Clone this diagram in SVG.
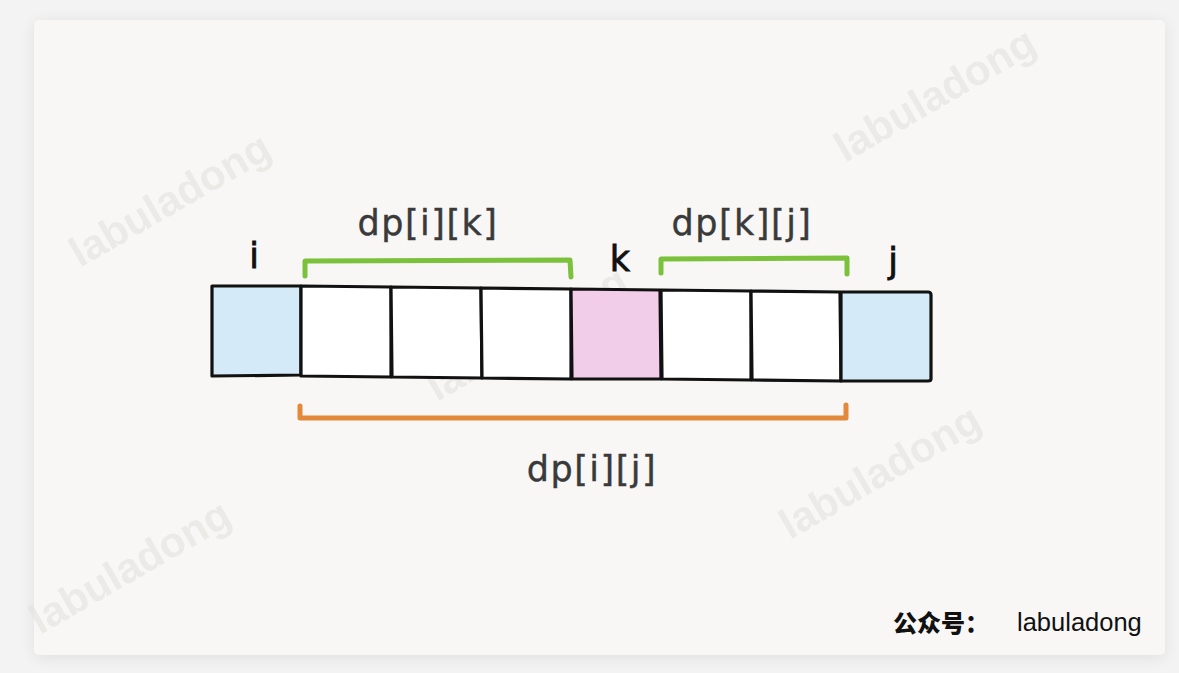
<svg xmlns="http://www.w3.org/2000/svg" width="1179" height="673" viewBox="0 0 1179 673">
<defs>
<filter id="sh" x="-5%" y="-5%" width="110%" height="110%">
<feGaussianBlur stdDeviation="8"/>
</filter>
<style>
.wm{font-family:"Liberation Sans",Arial,sans-serif;font-weight:bold;font-size:42px;fill:#e4e2de;opacity:0.6}
.cell{stroke:#111;stroke-width:3.2;stroke-linejoin:round}
.lbl{font-family:"DejaVu Sans",sans-serif;font-size:35px;fill:#111;stroke:#111;stroke-width:0.8;text-anchor:middle}
.dp{font-family:"DejaVu Sans",sans-serif;font-size:35px;letter-spacing:1.5px;fill:#3a3a3a;stroke:#3a3a3a;stroke-width:0.4;text-anchor:middle}
.br{fill:none;stroke-width:5;stroke-linecap:round;stroke-linejoin:round}
</style>
</defs>
<rect x="0" y="0" width="1179" height="673" fill="#f3f3f3"/>
<rect x="34" y="22" width="1131" height="636" rx="6" fill="#000" opacity="0.08" filter="url(#sh)"/>
<rect x="34" y="20" width="1131" height="635" rx="5" fill="#f8f7f5"/>
<g id="watermarks">
<text class="wm" transform="translate(80,268) rotate(-30)">labuladong</text>
<text class="wm" transform="translate(845,163) rotate(-30)">labuladong</text>
<text class="wm" transform="translate(437,402) rotate(-30)">labuladong</text>
<text class="wm" transform="translate(790,540) rotate(-30)">labuladong</text>
<text class="wm" transform="translate(40,635) rotate(-30)">labuladong</text>
</g>
<g id="cells">
<g id="cell0"><path class="cell" fill="#d5eaf8" d="M212,286 L301,286 L301,375 L212,376 Z"/></g>
<g id="cell1"><path class="cell" fill="#ffffff" d="M301,286 L391,287 L391,377 L301,376 Z"/></g>
<g id="cell2"><path class="cell" fill="#ffffff" d="M391,287 L481,288 L482,378 L392,377 Z"/></g>
<g id="cell3"><path class="cell" fill="#ffffff" d="M481,288 L571,289 L571,379 L482,378 Z"/></g>
<g id="cell4"><path class="cell" fill="#f2cdea" d="M571,289 L660,290 L661,379 L572,379 Z"/></g>
<g id="cell5"><path class="cell" fill="#ffffff" d="M661,290 L751,291 L751,380 L662,379 Z"/></g>
<g id="cell6"><path class="cell" fill="#ffffff" d="M751,291 L840,292 L841,381 L752,380 Z"/></g>
<g id="cell7"><path class="cell" fill="#d5eaf8" d="M841,292 L928,292 Q931,292 931,295 L931,379 Q931,381 928,381 L841,381 Z"/></g>
</g>
<g id="labels">
<text class="lbl" x="254" y="268">i</text>
<text class="lbl" x="620" y="271">k</text>
<text class="lbl" x="893" y="273">j</text>
</g>
<g id="connectors">
<path class="br" stroke="#7bc13b" d="M305,276 L305,261 L570,260 L571,277"/>
<path class="br" stroke="#7bc13b" d="M661,273 L661,259 L847,258 L847,274"/>
<path class="br" stroke="#e2893c" d="M300,406 L300,418 L846,418 L846,405"/>
</g>
<g id="dp-labels">
<text class="dp" x="428" y="235">dp[i][k]</text>
<text class="dp" x="742" y="235">dp[k][j]</text>
<text class="dp" x="592" y="481">dp[i][j]</text>
</g>
<g id="signature">
<text x="893" y="632" font-family="Noto Sans CJK SC,sans-serif" font-weight="900" font-size="24" fill="#111">公众号：</text>
<text x="1017" y="631" font-family="Liberation Sans,Arial,sans-serif" font-size="25.5" fill="#111">labuladong</text>
</g>
</svg>
